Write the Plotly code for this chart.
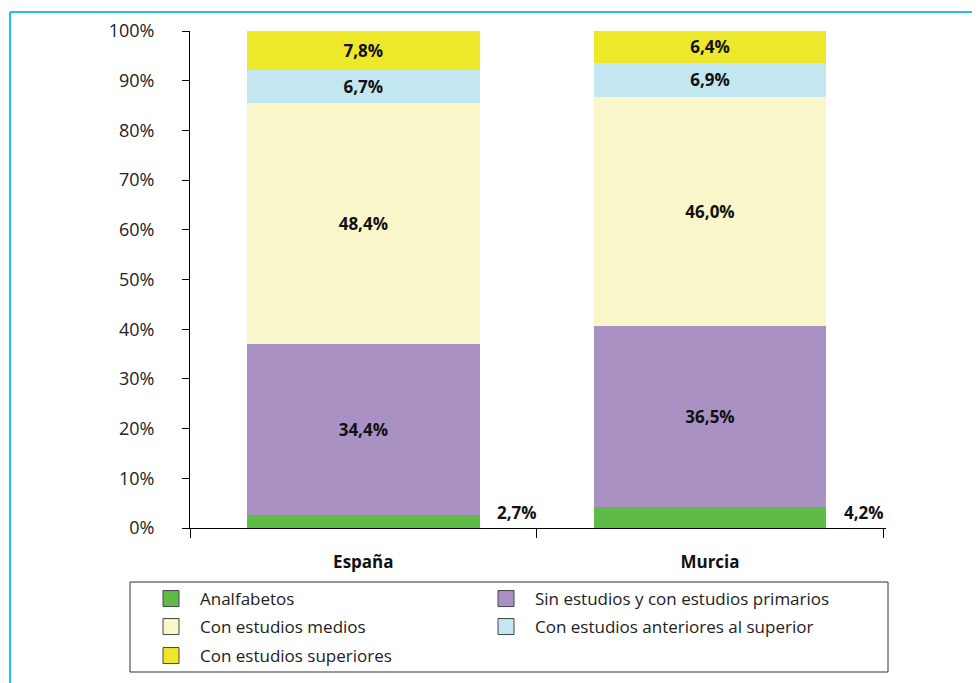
import plotly.graph_objects as go

regions = ["España", "Murcia"]
series_names = [
    "Analfabetos",
    "Sin estudios y con estudios primarios",
    "Con estudios medios",
    "Con estudios anteriores al superior",
    "Con estudios superiores",
]
analfabetos = [2.7, 4.2]
sin_estudios_primarios = [34.4, 36.5]
estudios_medios = [48.4, 46.0]
estudios_anteriores_superior = [6.7, 6.9]
estudios_superiores = [7.8, 6.4]
y_ticks = [0, 10, 20, 30, 40, 50, 60, 70, 80, 90, 100]
y_tick_labels = [f"{v}%" for v in y_ticks]

series_values = [analfabetos, sin_estudios_primarios, estudios_medios,
                 estudios_anteriores_superior, estudios_superiores]
colors = ["#5fba46", "#a991c4", "#f9f7c9", "#c3e7f0", "#eee82a"]
legend_ids = ["legend", "legend2", "legend3", "legend4", "legend5"]

OFF = 8  # page body margin
W, H = 980 - OFF, 683 - OFF
L, T = 190 - OFF, 31 - OFF
R = W - (886 - OFF)
B = H - (528 - OFF)
pw, ph = W - L - R, H - T - B


def px_x(p):
    return (p - OFF - L) / pw


def px_y(p):
    return (H - B - (p - OFF)) / ph


FONT = "Open Sans"

fig = go.Figure()
for i, (name, vals, col) in enumerate(zip(series_names, series_values, colors)):
    fig.add_trace(go.Bar(
        x=regions, y=vals, name=name,
        marker=dict(color=col, line=dict(width=0)),
        text=None if i == 0 else vals,
        texttemplate=None if i == 0 else "<b>%{y:.1f}%</b>",
        textposition="inside" if i else None,
        insidetextanchor="middle",
        textangle=0,
        textfont=dict(family=FONT, size=17, color="#111111"),
        hoverinfo="skip",
        showlegend=False,
    ))

# legend-only entries (square swatches with outline)
for name, col, lg in zip(series_names, colors, legend_ids):
    fig.add_trace(go.Scatter(
        x=[None], y=[None], name=name, mode="markers",
        marker=dict(symbol="square", size=16, color=col,
                    line=dict(color="#444444", width=1)),
        legend=lg, hoverinfo="skip",
    ))

# labels for the thin bottom segment, placed beside the bar
for r, v in zip(regions, analfabetos):
    fig.add_annotation(x=r, y=0, text=f"<b>{v:.1f}%</b>".replace(".", ","),
                       xref="x", yref="y", showarrow=False,
                       xanchor="center", yanchor="bottom",
                       xshift=154, yshift=2,
                       font=dict(family=FONT, size=17, color="#111111"))

leg_common = dict(
    orientation="h",
    xanchor="left", yanchor="bottom",
    itemwidth=48,
    borderwidth=0,
    bgcolor="rgba(0,0,0,0)",
    font=dict(family=FONT, size=17, color="#222222"),
    itemclick=False, itemdoubleclick=False,
)
# (left edge, bottom edge) of each legend entry block, in page pixels
leg_pos = [(142, 617), (477, 617), (142, 645), (477, 645), (142, 674)]
legends = {lid: dict(x=px_x(xp), y=px_y(yp), **leg_common)
           for lid, (xp, yp) in zip(legend_ids, leg_pos)}

fig.update_layout(
    width=W, height=H,
    margin=dict(l=L, r=R, t=T, b=B, pad=0, autoexpand=False),
    barmode="stack",
    bargap=0.328,
    separators=",.",
    paper_bgcolor="white",
    plot_bgcolor="white",
    font=dict(family=FONT, size=16, color="#222222"),
    showlegend=True,
    **legends,
)

fig.update_xaxes(
    type="category",
    showline=True, linecolor="#000000", linewidth=1,
    ticks="outside", ticklen=9, tickcolor="#000000", tickwidth=1,
    tickson="boundaries",
    tickfont=dict(family=FONT, size=17, color="#111111"),
    tickprefix="<b>", ticksuffix="</b>",
    showgrid=False, zeroline=False,
    ticklabelstandoff=19,
)
fig.update_yaxes(
    range=[0, 100],
    tickvals=y_ticks, ticktext=y_tick_labels,
    showline=True, linecolor="#000000", linewidth=1,
    ticks="outside", ticklen=7, tickcolor="#000000", tickwidth=1,
    tickfont=dict(family=FONT, size=18, color="#222222"),
    showgrid=False, zeroline=False,
    ticklabelstandoff=24,
)

# legend frame
fig.add_shape(type="rect", xref="paper", yref="paper",
              x0=px_x(130), x1=px_x(888), y0=px_y(582), y1=px_y(672),
              line=dict(color="#333333", width=1), fillcolor="rgba(0,0,0,0)")

# page frame
frame = "#22bbf2"
fig.add_shape(type="line", xref="paper", yref="paper",
              x0=px_x(10), x1=px_x(990), y0=px_y(12), y1=px_y(12),
              line=dict(color=frame, width=2))
fig.add_shape(type="line", xref="paper", yref="paper",
              x0=px_x(10), x1=px_x(10), y0=px_y(12), y1=px_y(690),
              line=dict(color=frame, width=2))

fig.write_html("out.html")
